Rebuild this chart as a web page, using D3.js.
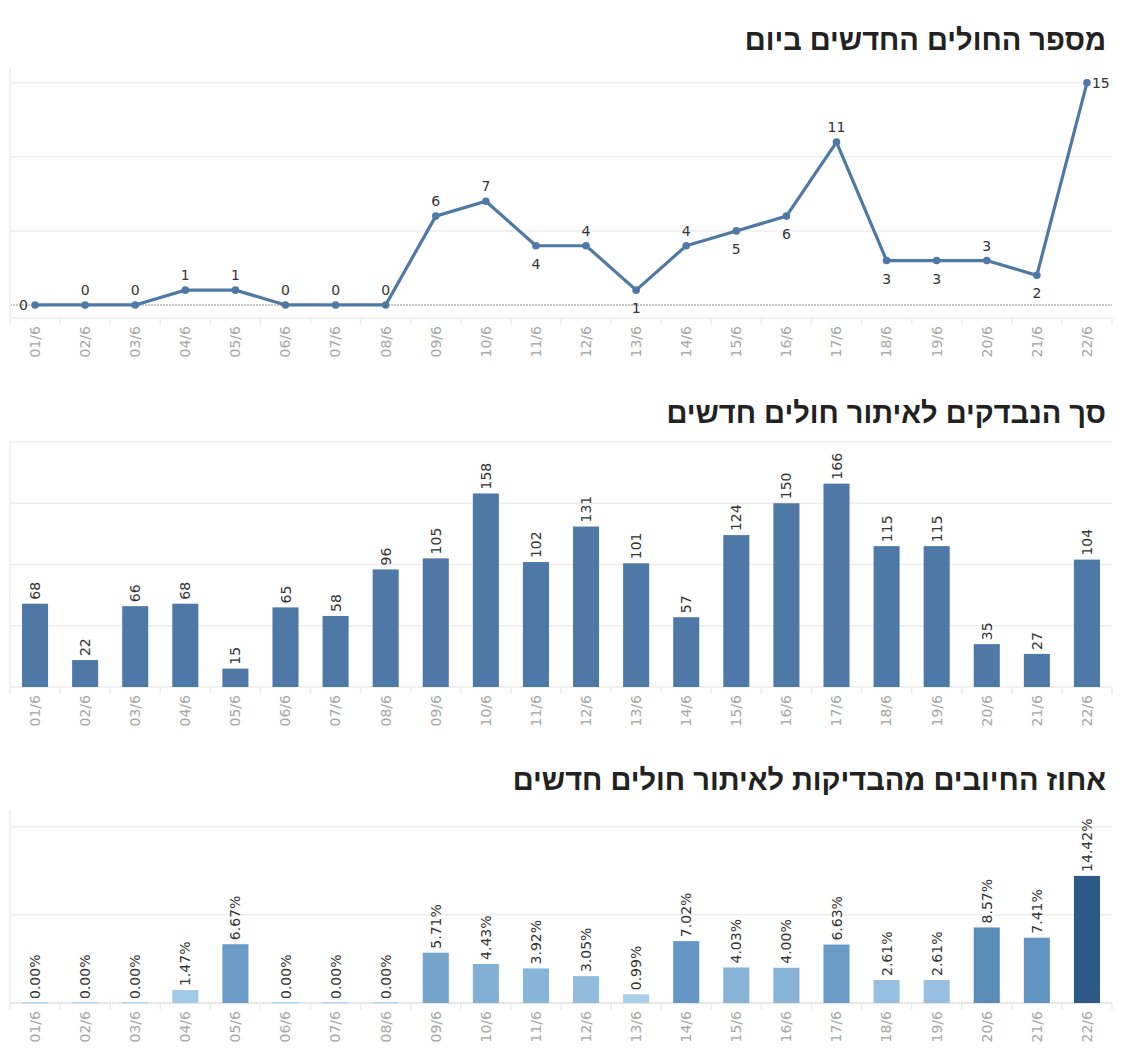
<!DOCTYPE html>
<html>
<head>
<meta charset="utf-8">
<script src="https://cdn.jsdelivr.net/npm/d3@7"></script>
<style>
  body { margin: 0; background: #fff; }
  svg { display: block; }
</style>
</head>
<body>
<div id="chart"></div>
<script>
// data
const dates = ["01/6", "02/6", "03/6", "04/6", "05/6", "06/6", "07/6", "08/6", "09/6", "10/6", "11/6",
    "12/6", "13/6", "14/6", "15/6", "16/6", "17/6", "18/6", "19/6", "20/6", "21/6", "22/6"];
const newCases = [0, 0, 0, 1, 1, 0, 0, 0, 6, 7, 4, 4, 1, 4, 5, 6, 11, 3, 3, 3, 2, 15];
const tested = [68, 22, 66, 68, 15, 65, 58, 96, 105, 158, 102, 131, 101, 57, 124, 150, 166, 115, 115, 35, 27, 104];
const positivePct = [0, 0, 0, 1.47, 6.67, 0, 0, 0, 5.71, 4.43, 3.92, 3.05, 0.99, 7.02, 4.03, 4.00, 6.63, 2.61, 2.61, 8.57, 7.41, 14.42];
// where tableau put each label on the line
const casesLabelSide = ["left", "above", "above", "above", "above", "above", "above", "above", "above", "above", "below",
    "above", "below", "above", "below", "below", "above", "below", "below", "above", "below", "right"];

const titles = ["מספר החולים החדשים ביום", "סך הנבדקים לאיתור חולים חדשים", "אחוז החיובים מהבדיקות לאיתור חולים חדשים"];

const width = 1124;
const height = 1048;
const left = 10;
const right = 1112;
const blue = "#4e79a7";
const gridColor = "#ededed";
const labelFont = "'DejaVu Sans', Verdana, sans-serif";

const svg = d3.select('#chart')
    .append('svg')
    .attr('width', width)
    .attr('height', height);

const x = d3.scaleBand()
    .domain(dates)
    .range([left, right])
    .paddingInner(0.48)
    .paddingOuter(0.24);

const cx = d => x(d) + x.bandwidth() / 2;

function drawTitle(text, y) {
    svg.append('text')
        .attr('x', 1106)
        .attr('y', y)
        .attr('text-anchor', 'end')
        .style('font-family', "'Liberation Sans', Arial, sans-serif")
        .style('font-weight', 'bold')
        .style('font-size', '29px')
        .style('fill', '#222')
        .text(text);
}

// grid, left axis line, x axis with rotated labels
function drawFrame(y, ticks, top, bottom, zeroDotted) {
    const g = svg.append('g');

    g.selectAll('.grid')
        .data(ticks)
        .enter()
        .append('line')
        .attr('x1', left)
        .attr('x2', right)
        .attr('y1', d => y(d))
        .attr('y2', d => y(d))
        .attr('stroke', d => (d === 0 && zeroDotted) ? '#c8c8c8' : gridColor)
        .attr('stroke-width', d => (d === 0 && zeroDotted) ? 2 : 1.5)
        .attr('stroke-dasharray', d => (d === 0 && zeroDotted) ? '2,1' : null);

    g.append('line')
        .attr('x1', left).attr('x2', left)
        .attr('y1', top).attr('y2', bottom)
        .attr('stroke', gridColor)
        .attr('stroke-width', 1.5);

    g.append('line')
        .attr('x1', left).attr('x2', right)
        .attr('y1', bottom).attr('y2', bottom)
        .attr('stroke', gridColor)
        .attr('stroke-width', 1.5);

    // separators between the date columns
    const edges = dates.map(d => cx(d) - x.step() / 2).concat([cx(dates[dates.length - 1]) + x.step() / 2]);
    g.selectAll('.sep')
        .data(edges)
        .enter()
        .append('line')
        .attr('x1', d => d).attr('x2', d => d)
        .attr('y1', bottom).attr('y2', bottom + 7)
        .attr('stroke', gridColor)
        .attr('stroke-width', 1.5);

    const xAxis = d3.axisBottom(x).tickSize(0).tickPadding(0);
    const axis = g.append('g')
        .attr('transform', `translate(0, ${bottom})`)
        .call(xAxis);
    axis.select('.domain').remove();
    axis.selectAll('text')
        .attr('transform', 'rotate(-90)')
        .attr('text-anchor', 'end')
        .attr('x', -8)
        .attr('y', 0)
        .attr('dy', '0.35em')
        .style('font-family', labelFont)
        .style('font-size', '14px')
        .style('fill', '#a6a6a6');
}

// chart 1: line of new cases
drawTitle(titles[0], 50);
const y1 = d3.scaleLinear().domain([-0.88, 16]).range([318, 68]);
drawFrame(y1, [0, 5, 10, 15], 68, 318, true);

const line = d3.line()
    .x((d, i) => cx(dates[i]))
    .y(d => y1(d));

svg.append('path')
    .datum(newCases)
    .attr('d', line)
    .attr('fill', 'none')
    .attr('stroke', blue)
    .attr('stroke-width', 3.2)
    .attr('stroke-linejoin', 'round');

svg.selectAll('.dot')
    .data(newCases)
    .enter()
    .append('circle')
    .attr('cx', (d, i) => cx(dates[i]))
    .attr('cy', d => y1(d))
    .attr('r', 3.8)
    .attr('fill', blue);

svg.selectAll('.case-label')
    .data(newCases)
    .enter()
    .append('text')
    .attr('x', (d, i) => {
        const s = casesLabelSide[i];
        if (s === 'left') return cx(dates[i]) - 7;
        if (s === 'right') return cx(dates[i]) + 5;
        return cx(dates[i]);
    })
    .attr('y', (d, i) => {
        const s = casesLabelSide[i];
        if (s === 'above') return y1(d) - 10;
        if (s === 'below') return y1(d) + 23;
        return y1(d) + 5;
    })
    .attr('text-anchor', (d, i) => casesLabelSide[i] === 'left' ? 'end' : casesLabelSide[i] === 'right' ? 'start' : 'middle')
    .style('font-family', labelFont)
    .style('font-size', '14px')
    .style('fill', '#333')
    .text(d => d);

// chart 2: bars of tested people
drawTitle(titles[1], 423);
const y2 = d3.scaleLinear().domain([0, 200]).range([687, 442]);
drawFrame(y2, [50, 100, 150, 200], 442, 687, false);

svg.selectAll('.tested')
    .data(tested)
    .enter()
    .append('rect')
    .attr('x', (d, i) => x(dates[i]))
    .attr('y', d => y2(d))
    .attr('width', x.bandwidth())
    .attr('height', d => y2(0) - y2(d))
    .attr('fill', blue);

svg.selectAll('.tested-label')
    .data(tested)
    .enter()
    .append('text')
    .attr('transform', (d, i) => `translate(${cx(dates[i]) + 5}, ${y2(d) - 4}) rotate(-90)`)
    .attr('text-anchor', 'start')
    .style('font-family', labelFont)
    .style('font-size', '14px')
    .style('fill', '#333')
    .text(d => d);

// chart 3: percent positive
drawTitle(titles[2], 790);
const y3 = d3.scaleLinear().domain([0, 21.9]).range([1003, 810]);
drawFrame(y3, [0, 10, 20], 810, 1003, true);

const color = d3.scaleLinear()
    .domain([0, 7, d3.max(positivePct)])
    .range(["#b4d8f0", "#6598c4", "#2c5985"]);

svg.selectAll('.pct')
    .data(positivePct)
    .enter()
    .append('rect')
    .attr('x', (d, i) => x(dates[i]))
    .attr('y', d => y3(d) - (d === 0 ? 1 : 0))
    .attr('width', x.bandwidth())
    .attr('height', d => Math.max(y3(0) - y3(d), 1.5))
    .attr('fill', d => color(d));

svg.selectAll('.pct-label')
    .data(positivePct)
    .enter()
    .append('text')
    .attr('transform', (d, i) => `translate(${cx(dates[i]) + 5}, ${y3(d) - 4}) rotate(-90)`)
    .attr('text-anchor', 'start')
    .style('font-family', labelFont)
    .style('font-size', '14px')
    .style('fill', '#333')
    .text(d => d.toFixed(2) + '%');
</script>
</body>
</html>
